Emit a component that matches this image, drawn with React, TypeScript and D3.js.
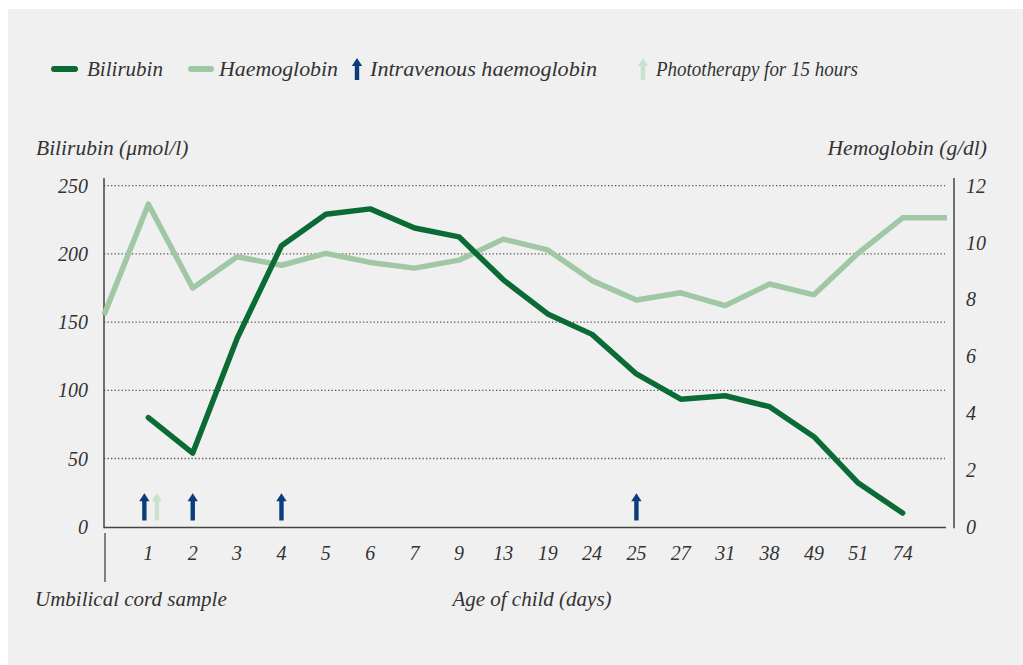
import React from "react";
import * as d3 from "d3";

const categories = ["", "1", "2", "3", "4", "5", "6", "7", "9", "13", "19", "24", "25", "27", "31", "38", "49", "51", "74", ""];
const bilirubin: (number | null)[] = [null, 80, 54, 138, 206, 229, 233, 219, 212.5, 181, 156, 141, 112, 93.5, 96, 88, 66, 32, 10, null];
const haemoglobin: number[] = [7.45, 11.35, 8.4, 9.5, 9.2, 9.62, 9.3, 9.1, 9.38, 10.12, 9.74, 8.66, 7.98, 8.23, 7.78, 8.54, 8.16, 9.63, 10.87, 10.87];
const leftTicks = [0, 50, 100, 150, 200, 250];
const rightTicks = [0, 2, 4, 6, 8, 10, 12];
const intravenousDays = ["1", "2", "4", "25"];
const phototherapyDays = ["1"];

const DARK = "#0a6b35";
const LIGHT = "#a0c8a4";
const BLUE = "#0b3c7c";
const PALE = "#c8e2cb";
const TEXT = "#333";
const FONT = "'Liberation Serif', 'DejaVu Serif', serif";

function Arrow({ x, yBase, yTop, color }: { x: number; yBase: number; yTop: number; color: string }) {
  const hw = 5.2;
  const hh = 8;
  const sw = 2.2;
  const d = `M${x - sw},${yBase} L${x - sw},${yTop + hh} L${x - hw},${yTop + hh} L${x},${yTop} L${x + hw},${yTop + hh} L${x + sw},${yTop + hh} L${x + sw},${yBase} Z`;
  return <path d={d} fill={color} />;
}

export default function App() {
  const W = 1023, H = 665;
  const x = d3.scaleLinear().domain([0, categories.length - 1]).range([104, 947]);
  const yL = d3.scaleLinear().domain([0, 250]).range([526.7, 185.7]);
  const yR = d3.scaleLinear().domain([0, 12]).range([526.7, 185.7]);

  const bLine = d3.line<number | null>()
    .defined((d) => d !== null)
    .x((_, i) => x(i))
    .y((d) => yL(d as number));
  const hLine = d3.line<number>()
    .x((_, i) => x(i))
    .y((d) => yR(d));

  const gridX0 = 104, gridX1 = 945;
  const axisBottom = 527.5;

  const idx = (c: string) => categories.indexOf(c);

  return (
    <svg width={W} height={H} style={{ position: "fixed", left: 0, top: 0, display: "block" }} fontFamily={FONT}>
      <rect x={0} y={0} width={W} height={H} fill="#ffffff" />
      <rect x={8} y={9} width={W - 8} height={H - 9} fill="#f0f0f0" />

      {/* Legend */}
      <g fontStyle="italic" fontSize={20.5} fill={TEXT}>
        <line x1={54} x2={75} y1={69} y2={69} stroke={DARK} strokeWidth={6} strokeLinecap="round" />
        <text x={87} y={76} textLength={76} lengthAdjust="spacingAndGlyphs">Bilirubin</text>
        <line x1={191} x2={211} y1={69} y2={69} stroke={LIGHT} strokeWidth={6} strokeLinecap="round" />
        <text x={219} y={76} textLength={119} lengthAdjust="spacingAndGlyphs">Haemoglobin</text>
        <Arrow x={357} yBase={80} yTop={58} color={BLUE} />
        <text x={370} y={76} textLength={227} lengthAdjust="spacingAndGlyphs">Intravenous haemoglobin</text>
        <Arrow x={643} yBase={80} yTop={58} color={PALE} />
        <text x={656} y={76} textLength={202} lengthAdjust="spacingAndGlyphs">Phototherapy for 15 hours</text>
      </g>

      {/* Axis titles */}
      <g fontStyle="italic" fontSize={21.5} fill={TEXT}>
        <text x={36} y={155}>Bilirubin (μmol/l)</text>
        <text x={987} y={155} textAnchor="end">Hemoglobin (g/dl)</text>
      </g>

      {/* Grid */}
      {leftTicks.filter((t) => t > 0).map((t) => (
        <line key={t} x1={gridX0} x2={gridX1} y1={yL(t)} y2={yL(t)} stroke="#555" strokeWidth={1.3} strokeDasharray="1.3 2.2" />
      ))}

      {/* Axes */}
      <line x1={104} x2={104} y1={178} y2={axisBottom + 0.7} stroke="#444" strokeWidth={1.5} />
      <line x1={104} x2={946} y1={axisBottom} y2={axisBottom} stroke="#444" strokeWidth={1.5} />
      <line x1={954} x2={954} y1={178} y2={axisBottom + 0.7} stroke="#444" strokeWidth={1.5} />
      <line x1={105} x2={105} y1={533} y2={582} stroke="#444" strokeWidth={1.3} />

      {/* Left ticks */}
      <g fontStyle="italic" fontSize={20} fill={TEXT} textAnchor="end">
        {leftTicks.map((t) => (
          <text key={t} x={88} y={yL(t) + 7}>{t}</text>
        ))}
      </g>
      {/* Right ticks */}
      <g fontStyle="italic" fontSize={20} fill={TEXT}>
        {rightTicks.map((t) => (
          <text key={t} x={966} y={yR(t) + 7}>{t}</text>
        ))}
      </g>
      {/* Bottom ticks */}
      <g fontStyle="italic" fontSize={20} fill={TEXT} textAnchor="middle">
        {categories.map((c, i) => (c ? <text key={i} x={x(i)} y={560}>{c}</text> : null))}
      </g>
      <g fontStyle="italic" fontSize={21} fill={TEXT}>
        <text x={35} y={606}>Umbilical cord sample</text>
        <text x={532} y={606} textAnchor="middle">Age of child (days)</text>
      </g>

      {/* Lines */}
      <path d={hLine(haemoglobin) || ""} fill="none" stroke={LIGHT} strokeWidth={5.5} strokeLinejoin="round" />
      <path d={bLine(bilirubin) || ""} fill="none" stroke={DARK} strokeWidth={5.5} strokeLinejoin="round" strokeLinecap="round" />

      {/* Arrows */}
      {intravenousDays.map((dname) => {
        const both = phototherapyDays.includes(dname);
        return <Arrow key={"iv" + dname} x={x(idx(dname)) + (both ? -4 : 0)} yBase={yL(4.5)} yTop={yL(24.5)} color={BLUE} />;
      })}
      {phototherapyDays.map((dname) => {
        const both = intravenousDays.includes(dname);
        return <Arrow key={"pt" + dname} x={x(idx(dname)) + (both ? 8.5 : 0)} yBase={yL(4.5)} yTop={yL(24.5)} color={PALE} />;
      })}
    </svg>
  );
}
